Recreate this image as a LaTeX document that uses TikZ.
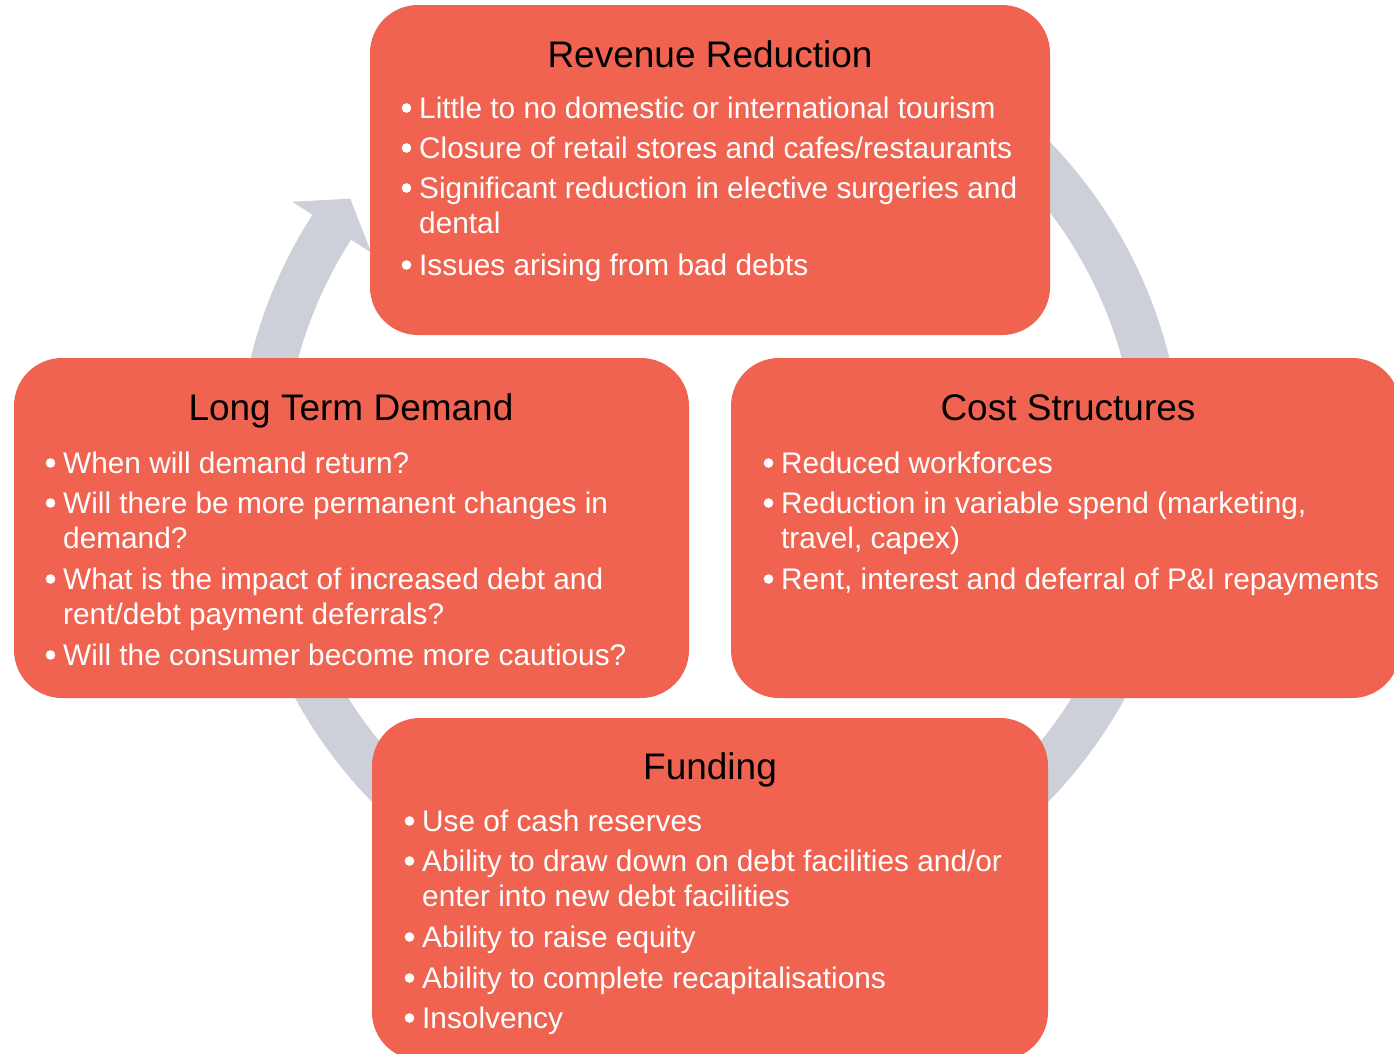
\documentclass[tikz,border=0pt]{standalone}
\usepackage{fontspec}
\setmainfont{Liberation Sans}
\usetikzlibrary{calc}
\definecolor{boxred}{HTML}{F06351}
\definecolor{ringgray}{HTML}{CDD0D9}
\tikzset{
  box/.style={fill=boxred, draw=none, rounded corners=48pt, inner sep=0pt},
  ttl/.style={font=\fontsize{37}{41}\selectfont, text=black, anchor=base, inner sep=0pt},
  itm/.style={font=\fontsize{29.8}{35}\selectfont, text=white, anchor=base west, inner sep=0pt},
  ring/.style={draw=ringgray, line width=46pt},
}
\newcommand{\bdot}[1]{\fill[white] ($(#1.base west)+(-12.5,10)$) circle (4.8);}
\begin{document}
\begin{tikzpicture}[x=1pt,y=1pt]
\useasboundingbox (0,0) rectangle (1394,-1053);
\clip (0,0) rectangle (1394,-1053);
\fill[white] (0,0) rectangle (1394,-1053);
% cycle ring
\coordinate (ctr) at (710,-471);
\draw[ring] ($(ctr)+(60:450)$) arc[start angle=60, end angle=-213.8, radius=450];
\coordinate (hb1) at ($(ctr)+(147.2:497)$);
\coordinate (hb2) at ($(ctr)+(147.2:403)$);
\coordinate (htip) at ($(ctr)+(147.2:450)+(57.2:34)$);
\fill[ringgray] (hb1) -- (htip) -- (hb2) -- cycle;
% boxes
\node[box, minimum width=680pt, minimum height=330pt] (rev) at (710,-170) {};
\node[box, minimum width=675pt, minimum height=340pt] (ltd) at (351.5,-528) {};
\node[box, minimum width=669pt, minimum height=340pt] (cost) at (1065.5,-528) {};
\node[box, minimum width=676pt, minimum height=342pt] (fund) at (710,-889) {};
% Revenue Reduction
\node[ttl] (revT) at (710,-67) {Revenue Reduction};
\node[itm] (r1) at (419,-118) {Little to no domestic or international tourism}; \bdot{r1}
\node[itm] (r2) at (419,-158) {Closure of retail stores and cafes/restaurants}; \bdot{r2}
\node[itm] (r3) at (419,-198) {Significant reduction in elective surgeries and}; \bdot{r3}
\node[itm] (r3b) at (419,-233) {dental};
\node[itm] (r4) at (419,-275) {Issues arising from bad debts}; \bdot{r4}
% Long Term Demand
\node[ttl] (ltdT) at (351,-420) {Long Term Demand};
\node[itm] (l1) at (63,-473) {When will demand return?}; \bdot{l1}
\node[itm] (l2) at (63,-513) {Will there be more permanent changes in}; \bdot{l2}
\node[itm] (l2b) at (63,-548) {demand?};
\node[itm] (l3) at (63,-589) {What is the impact of increased debt and}; \bdot{l3}
\node[itm] (l3b) at (63,-624) {rent/debt payment deferrals?};
\node[itm] (l4) at (63,-665) {Will the consumer become more cautious?}; \bdot{l4}
% Cost Structures
\node[ttl] (costT) at (1068,-420) {Cost Structures};
\node[itm] (c1) at (781,-473) {Reduced workforces}; \bdot{c1}
\node[itm] (c2) at (781,-513) {Reduction in variable spend (marketing,}; \bdot{c2}
\node[itm] (c2b) at (781,-548) {travel, capex)};
\node[itm] (c3) at (781,-589) {Rent, interest and deferral of P\&I repayments}; \bdot{c3}
% Funding
\node[ttl] (fundT) at (710,-779) {Funding};
\node[itm] (f1) at (422,-831) {Use of cash reserves}; \bdot{f1}
\node[itm] (f2) at (422,-871) {Ability to draw down on debt facilities and/or}; \bdot{f2}
\node[itm] (f2b) at (422,-906) {enter into new debt facilities};
\node[itm] (f3) at (422,-947) {Ability to raise equity}; \bdot{f3}
\node[itm] (f4) at (422,-988) {Ability to complete recapitalisations}; \bdot{f4}
\node[itm] (f5) at (422,-1028) {Insolvency}; \bdot{f5}
\end{tikzpicture}
\end{document}
